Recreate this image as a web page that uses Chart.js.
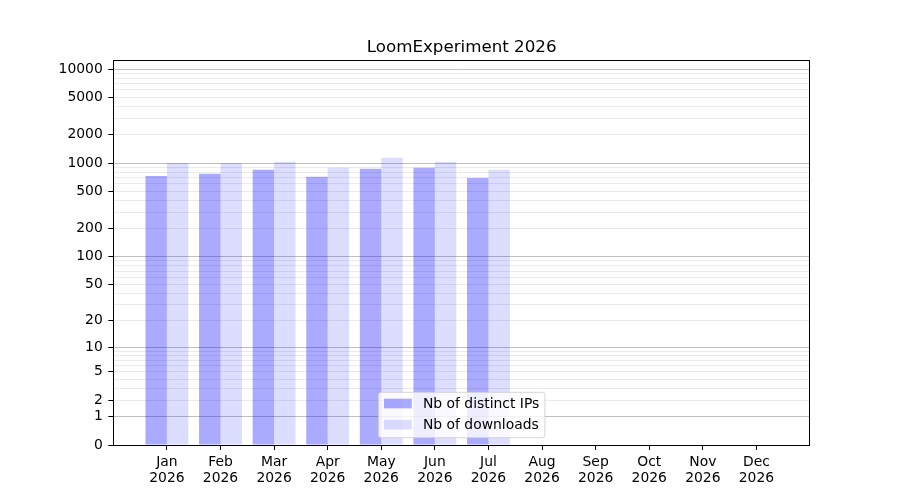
<!DOCTYPE html>
<html>
<head>
<meta charset="utf-8">
<script src="https://cdn.jsdelivr.net/npm/chart.js@4/dist/chart.umd.min.js"></script>
<style>
  html, body { margin: 0; padding: 0; background: #fff; }
</style>
</head>
<body>
<canvas id="loomChart" width="900" height="500"></canvas>
<script>
const months = ["Jan", "Feb", "Mar", "Apr", "May", "Jun", "Jul", "Aug", "Sep", "Oct", "Nov", "Dec"];
const year = "2026";
const distinctIps = [730, 768, 847, 713, 868, 890, 695];
const downloads = [1000, 1000, 1031, 893, 1137, 1031, 847];
const yTickLabels = [0, 1, 2, 5, 10, 20, 50, 100, 200, 500, 1000, 2000, 5000, 10000];
const yMajor = [1, 10, 100, 1000, 10000];

// minor grid: every integer multiple inside each decade
let yGridValues = [0];
for (let d = 1; d <= 1000; d *= 10) {
  for (let m = 1; m < 10; m++) yGridValues.push(m * d);
}
yGridValues.push(10000);

// value axis that works on log10(1 + v), so 0 sits at the bottom
class Log1pScale extends Chart.Scale {
  determineDataLimits() {
    this.min = this.options.min ?? 0;
    this.max = this.options.max ?? 10000;
  }
  buildTicks() {
    return yGridValues.filter(v => v >= this.min && v <= this.max).map(v => ({ value: v }));
  }
  getLabelForValue(v) {
    return String(v);
  }
  configure() {
    super.configure();
    this._lo = Math.log10(1 + this.min);
    this._span = Math.log10(1 + this.max) - this._lo;
  }
  getPixelForValue(v) {
    if (v === undefined || v === null || isNaN(v)) v = this.min;
    return this.getPixelForDecimal((Math.log10(1 + Math.max(v, 0)) - this._lo) / this._span);
  }
  getValueForPixel(p) {
    return Math.pow(10, this._lo + this.getDecimalForPixel(p) * this._span) - 1;
  }
}
Log1pScale.id = "log1p";
Log1pScale.defaults = {};
Chart.register(Log1pScale);

const plotFrame = {
  id: "plotFrame",
  afterDatasetsDraw(chart) {
    const { ctx, chartArea: a } = chart;
    ctx.save();
    ctx.strokeStyle = "#000";
    ctx.lineWidth = 1;
    ctx.strokeRect(Math.round(a.left) + 0.5, Math.round(a.top) + 0.5,
                   Math.round(a.right - a.left) - 1, Math.round(a.bottom - a.top));
    ctx.restore();
  }
};

// matplotlib-style legend box, lower centre of the plot
const boxLegend = {
  id: "boxLegend",
  afterDraw(chart) {
    const { ctx, chartArea: a } = chart;
    const sets = chart.data.datasets;
    ctx.save();
    ctx.font = '13.9px "DejaVu Sans", sans-serif';
    const textW = Math.max(...sets.map(d => ctx.measureText(d.label).width));
    const pad = 5.6, handleW = 27.8, handleH = 9.7, gap = 11.1, rowH = 21.2;
    const w = pad * 2 + handleW + gap + textW;
    const h = 45.4;
    const x = (a.left + a.right) / 2 - w / 2;
    const y = a.bottom - 7.3 - h;
    ctx.beginPath();
    ctx.roundRect(x, y, w, h, 3);
    ctx.fillStyle = "rgba(255,255,255,0.8)";
    ctx.fill();
    ctx.strokeStyle = "rgba(204,204,204,0.8)";
    ctx.lineWidth = 1;
    ctx.stroke();
    sets.forEach((d, i) => {
      const cy = y + 11.2 + i * rowH;
      ctx.fillStyle = d.backgroundColor;
      ctx.fillRect(x + pad, cy - handleH / 2, handleW, handleH);
      ctx.fillStyle = "#000";
      ctx.textBaseline = "middle";
      ctx.fillText(d.label, x + pad + handleW + gap, cy + 0.5);
    });
    ctx.restore();
  }
};

Chart.defaults.font.family = '"DejaVu Sans", sans-serif';
Chart.defaults.color = "#000";

new Chart("loomChart", {
  type: "bar",
  data: {
    datasets: [
      {
        label: "Nb of distinct IPs",
        data: distinctIps.map((v, i) => ({ x: i, y: v })),
        backgroundColor: "rgba(0,0,255,0.333)",
        categoryPercentage: 0.8,
        barPercentage: 1.0
      },
      {
        label: "Nb of downloads",
        data: downloads.map((v, i) => ({ x: i, y: v })),
        backgroundColor: "rgba(0,0,255,0.135)",
        categoryPercentage: 0.8,
        barPercentage: 1.0
      }
    ]
  },
  options: {
    responsive: false,
    animation: false,
    layout: { padding: { left: 0, right: 90, top: 0, bottom: 0 } },
    plugins: {
      legend: { display: false },
      tooltip: { enabled: false },
      title: {
        display: true,
        fullSize: false,
        text: "LoomExperiment " + year,
        color: "#000",
        font: { size: 16.7, weight: "normal" },
        padding: { top: 38, bottom: 2 }
      }
    },
    scales: {
      x: {
        type: "linear",
        min: -1,
        max: 12,
        offset: false,
        afterBuildTicks: scale => { scale.ticks = months.map((m, i) => ({ value: i })); },
        afterFit: scale => { scale.height = 55; },
        ticks: {
          autoSkip: false,
          maxRotation: 0,
          padding: 4.5,
          font: { size: 13.9, lineHeight: 1.14 },
          callback: v => [months[v], year]
        },
        grid: { offset: false, drawOnChartArea: false, tickLength: 5, tickColor: "#000" },
        border: { display: false }
      },
      y: {
        type: "log1p",
        min: 0,
        max: 12500,
        afterFit: scale => { scale.width = 113.3; },
        ticks: {
          autoSkip: false,
          padding: 5.5,
          font: { size: 13.9 },
          callback: v => yTickLabels.includes(v) ? String(v) : ""
        },
        grid: {
          color: c => yMajor.includes(c.tick.value) ? "#c0c0c0" : "#ebebeb",
          tickColor: c => yTickLabels.includes(c.tick.value) ? "#000" : "rgba(0,0,0,0)",
          tickLength: 5
        },
        border: { display: false }
      }
    }
  },
  plugins: [plotFrame, boxLegend]
});
</script>
</body>
</html>
